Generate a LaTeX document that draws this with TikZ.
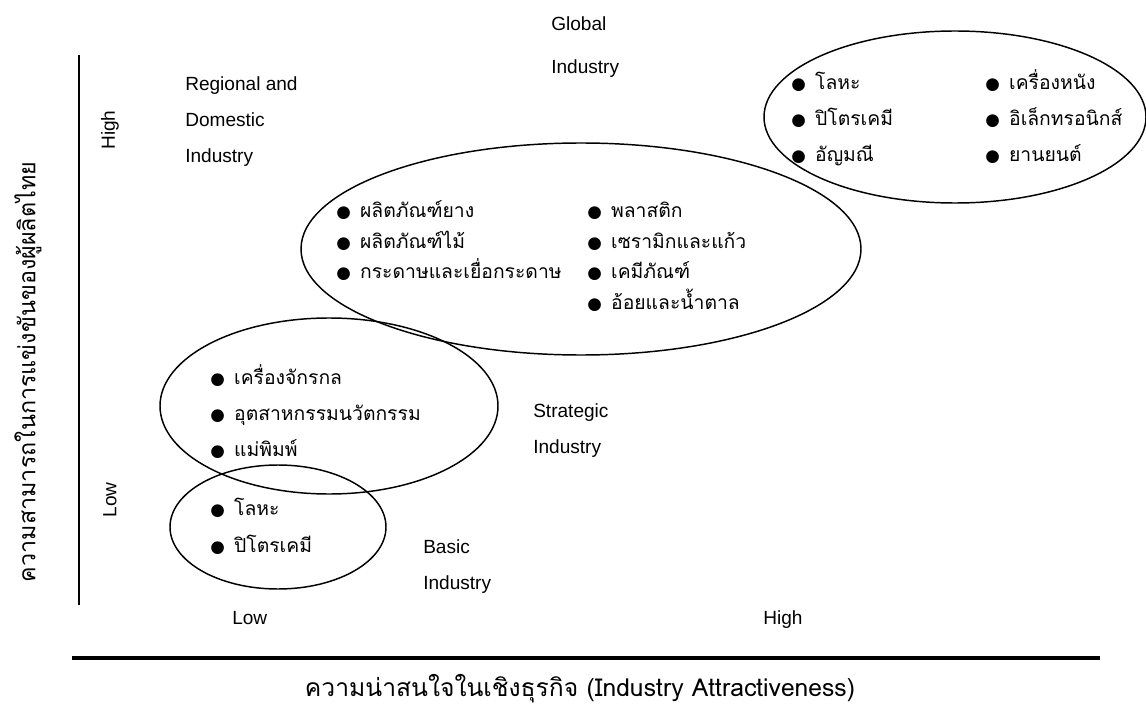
\documentclass[tikz,border=0pt]{standalone}
\usepackage{fontspec}
\setmainfont{Liberation Sans}
\newfontfamily\thaifont[Script=Thai]{Loma}
\newfontfamily\symfont{DejaVu Sans}
\usetikzlibrary{positioning, shapes.geometric}

\newcommand{\bul}{{\symfont\fontsize{12.5}{12}\selectfont ●}\hspace{7pt}}

\tikzset{
	lbl/.style={anchor=base west, inner sep=0pt, font=\fontsize{14.3}{17}\selectfont},
	item/.style={anchor=base west, inner sep=0pt, font=\thaifont\fontsize{14.5}{17}\selectfont},
	grp/.style={line width=1.1pt},
	axis/.style={line width=2pt}
}

\begin{document}
\begin{tikzpicture}[x=0.75pt, y=-0.75pt]
	\useasboundingbox (0,0) rectangle (1146,706);
	% axes
	\coordinate (ytop) at (79,55);
	\coordinate (ybot) at (79,605);
	\coordinate (xl) at (72,658);
	\coordinate (xr) at (1100,658);
	\draw[axis] (ytop) -- (ybot);
	\draw[axis, line width=2.6pt] (xl) -- (xr);
	\node[rotate=90, inner sep=0pt, font=\thaifont\fontsize{17.5}{20}\selectfont] (ylab) at (28,372) {ความสามารถในการแข่งขันของผู้ผลิตไทย};
	\node[rotate=90, inner sep=0pt, font=\fontsize{14.3}{17}\selectfont] (yhigh) at (110,130) {High};
	\node[rotate=90, inner sep=0pt, font=\fontsize{14.3}{17}\selectfont] (ylow) at (110,500) {Low};
	\node[lbl] (xlow) at (232,624) {Low};
	\node[lbl] (xhigh) at (763,624) {High};
	\node[inner sep=0pt, font=\thaifont\fontsize{18.5}{22}\selectfont] (xlab) at (580,689) {ความน่าสนใจในเชิงธุรกิจ (Industry Attractiveness)};
	% group titles
	\node[lbl] (glob1) at (551,31) {Global};
	\node[lbl] (glob2) at (551,74) {Industry};
	\node[lbl] (reg1) at (185,91) {Regional and};
	\node[lbl] (reg2) at (185,127) {Domestic};
	\node[lbl] (reg3) at (185,163) {Industry};
	\node[lbl] (str1) at (533,417) {Strategic};
	\node[lbl] (str2) at (533,453) {Industry};
	\node[lbl] (bas1) at (423,553) {Basic};
	\node[lbl] (bas2) at (423,589) {Industry};
	% ellipses
	\draw[grp] (955,117) ellipse [x radius=191, y radius=86];
	\draw[grp] (581,249) ellipse [x radius=280, y radius=106];
	\draw[grp] (329,406) ellipse [x radius=169, y radius=88];
	\draw[grp] (278,527) ellipse [x radius=108, y radius=62];
	% items
	\foreach \t [count=\i] in {โลหะ, ปิโตรเคมี, อัญมณี}
		\node[item] (ga\i) at (791,54+36*\i) {\bul\t};
	\foreach \t [count=\i] in {เครื่องหนัง, อิเล็กทรอนิกส์, ยานยนต์}
		\node[item] (gb\i) at (985,54+36*\i) {\bul\t};
	\foreach \t [count=\i] in {ผลิตภัณฑ์ยาง, ผลิตภัณฑ์ไม้, กระดาษและเยื่อกระดาษ}
		\node[item] (ra\i) at (336,187+30.5*\i) {\bul\t};
	\foreach \t [count=\i] in {พลาสติก, เซรามิกและแก้ว, เคมีภัณฑ์, อ้อยและน้ำตาล}
		\node[item] (rb\i) at (587,187+30.5*\i) {\bul\t};
	\foreach \t [count=\i] in {เครื่องจักรกล, อุตสาหกรรมนวัตกรรม, แม่พิมพ์}
		\node[item] (sa\i) at (210,348+36*\i) {\bul\t};
	\foreach \t [count=\i] in {โลหะ, ปิโตรเคมี}
		\node[item] (ba\i) at (210,479+36.5*\i) {\bul\t};
\end{tikzpicture}
\end{document}
